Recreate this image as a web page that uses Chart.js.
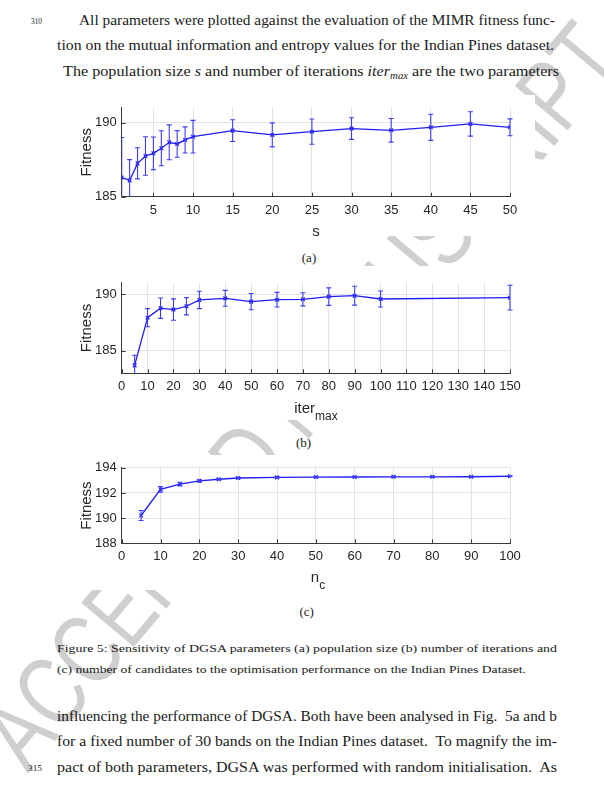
<!DOCTYPE html>
<html><head><meta charset="utf-8">
<script src="https://cdn.jsdelivr.net/npm/chart.js@4/dist/chart.umd.min.js"></script>
<style>
html,body{margin:0;padding:0;background:#fff;}
body{width:604px;height:786px;position:relative;overflow:hidden;}
.wm{position:absolute;font-family:'Liberation Sans',sans-serif;color:#cfcfcf;white-space:nowrap;z-index:0;line-height:1;}
.txt{position:absolute;font-family:'Liberation Serif',serif;white-space:nowrap;z-index:1;color:#1a1a1a;transform-origin:0 0;line-height:0;}
.box{position:absolute;background:#fff;z-index:2;}
.lbl{position:absolute;font-family:'Liberation Sans',sans-serif;color:#262626;z-index:3;white-space:nowrap;line-height:1;transform:translate(-50%,-50%);}
.sub{position:relative;top:7px;font-size:12px;}
</style>
</head><body>
<div class="wm" id="wm">ACCEPTED MANUSCRIPT</div>

<div class="box" style="left:55px;top:95px;width:480px;height:141px;"><canvas id="ca" width="475" height="141"></canvas></div>
<div class="box" style="left:55px;top:266px;width:475px;height:154px;"><canvas id="cb" width="475" height="154"></canvas></div>
<div class="box" style="left:55px;top:455px;width:475px;height:135px;"><canvas id="cc" width="475" height="135"></canvas></div>

<div class="lbl" style="left:316px;top:230px;font-size:15px;">s</div>
<div class="lbl" style="left:316px;top:407px;font-size:15px;">iter<span class="sub">max</span></div>
<div class="lbl" style="left:318px;top:576px;font-size:15px;">n<span class="sub">c</span></div>

<script>
// ---------- data ----------
const sX = [1,2,3,4,5,6,7,8,9,10,15,20,25,30,35,40,45,50];
const sFit = [186.3,186.1,187.25,187.75,187.93,188.27,188.67,188.56,188.83,189.05,189.46,189.17,189.39,189.6,189.48,189.68,189.91,189.68];
const sErr = [2.7,1.4,1.05,1.3,1.1,1.18,1.18,0.9,0.88,1.1,0.73,0.81,0.85,0.73,0.8,0.88,0.82,0.57];
const sTicksX = [5,10,15,20,25,30,35,40,45,50];
const sTicksY = [185,190];

const iterX = [5,10,15,20,25,30,40,50,60,70,80,90,100,150];
const iterFit = [183.7,187.91,188.75,188.63,188.92,189.48,189.62,189.33,189.5,189.53,189.77,189.85,189.56,189.68];
const iterErr = [0.9,0.8,0.9,0.94,0.76,0.77,0.7,0.72,0.65,0.58,0.77,0.83,0.71,1.09];
const iterTicksX = [0,10,20,30,40,50,60,70,80,90,100,110,120,130,140,150];
const iterTicksY = [185,190];

const ncX = [5,10,15,20,25,30,40,50,60,70,80,90,100];
const ncFit = [190.21,192.29,192.7,192.96,193.09,193.19,193.24,193.26,193.27,193.28,193.28,193.29,193.33];
const ncErr = [0.4,0.22,0.15,0.08,0.05,0.05,0.04,0.04,0.04,0.04,0.04,0.04,0.04];
const ncTicksX = [0,10,20,30,40,50,60,70,80,90,100];
const ncTicksY = [188,190,192,194];

// ---------- text ----------
const bodyLines = [
  ['All parameters were plotted against the evaluation of the MIMR fitness func-', 79, 25, 555],
  ['tion on the mutual information and entropy values for the Indian Pines dataset.', 57, 50.5, 554],
  ['The population size <i>s</i> and number of iterations <i>iter</i><i style="font-size:10px;position:relative;top:3px">max</i> are the two parameters', 63, 76, 559],
  ['influencing the performance of DGSA. Both have been analysed in Fig.&nbsp; 5a and b', 57, 721, 557],
  ['for a fixed number of 30 bands on the Indian Pines dataset.&nbsp; To magnify the im-', 57, 746.5, 557],
  ['pact of both parameters, DGSA was performed with random initialisation.&nbsp; As', 57, 772, 557]
];
const captionLines = [
  ['Figure 5: Sensitivity of DGSA parameters (a) population size (b) number of iterations and', 57, 652, 557],
  ['(c) number of candidates to the optimisation performance on the Indian Pines Dataset.', 57, 673, 526]
];
const lineNums = [['310', 31, 25, 42], ['315', 28, 772, 42]];
const subCaps = [['(a)', 309, 258], ['(b)', 303.5, 443], ['(c)', 306.7, 612.7]];

function addText(html, left, baseline, size, right) {
  const el = document.createElement('div');
  el.className = 'txt';
  el.innerHTML = html;
  el.style.fontSize = size + 'px';
  el.style.left = left + 'px';
  el.style.top = (baseline - 0.3375 * size) + 'px';
  document.body.appendChild(el);
  if (right) {
    const w = el.getBoundingClientRect().width;
    el.style.transform = 'scaleX(' + ((right - left) / w) + ')';
  }
  return el;
}
bodyLines.forEach(l => addText(l[0], l[1], l[2], 15, l[3]));
captionLines.forEach(l => addText(l[0], l[1], l[2], 11, l[3]));
lineNums.forEach(l => addText(l[0], l[1], l[2], 8, l[3]));
subCaps.forEach(l => {
  const el = addText(l[0], 0, l[2] + 4, 13, null);
  const w = el.getBoundingClientRect().width;
  el.style.left = (l[1] - w / 2) + 'px';
});

// watermark
(function(){
  const wm = document.getElementById('wm');
  wm.style.fontSize = '100px';
  const w = wm.getBoundingClientRect().width, h = wm.getBoundingClientRect().height;
  const k = 930 / w;
  wm.style.left = (300 - w / 2) + 'px';
  wm.style.top = (395 - h / 2) + 'px';
  wm.style.transform = 'rotate(-50deg) scaleX(' + k + ')';
})();

// ---------- charts ----------
const BLUE = 'rgb(30,30,245)';
const BAR = 'rgb(60,60,250)';
const GRID = '#e3e3e3';
const AXIS = '#3a3a3a';
const TXT = '#262626';
const SANS = "'Liberation Sans', Arial, sans-serif";

const errorBars = {
  id: 'errorBars',
  afterDatasetsDraw(chart) {
    const ds = chart.data.datasets[0];
    const xs = chart.scales.x, ys = chart.scales.y, ca = chart.chartArea, ctx = chart.ctx;
    ctx.save();
    ctx.beginPath();
    ctx.rect(ca.left, ca.top - 1, ca.right - ca.left + 4, ca.bottom - ca.top + 1);
    ctx.clip();
    ctx.strokeStyle = BAR;
    ctx.lineWidth = 1.1;
    const cap = 2.5;
    ds.data.forEach((p, i) => {
      const e = ds.errors[i];
      const px = xs.getPixelForValue(p.x);
      const y1 = ys.getPixelForValue(p.y + e), y2 = ys.getPixelForValue(p.y - e);
      ctx.beginPath();
      ctx.moveTo(px, y1); ctx.lineTo(px, y2);
      ctx.moveTo(px - cap, y1); ctx.lineTo(px + cap, y1);
      ctx.moveTo(px - cap, y2); ctx.lineTo(px + cap, y2);
      ctx.stroke();
    });
    ctx.restore();
  },
  afterDraw(chart) {
    const xs = chart.scales.x, ys = chart.scales.y, ca = chart.chartArea, ctx = chart.ctx;
    ctx.save();
    ctx.strokeStyle = AXIS;
    ctx.lineWidth = 1;
    ctx.beginPath();
    xs.ticks.forEach(t => {
      const px = Math.round(xs.getPixelForValue(t.value)) + 0.5;
      ctx.moveTo(px, ca.bottom); ctx.lineTo(px, ca.bottom - 4);
    });
    ys.ticks.forEach(t => {
      const py = Math.round(ys.getPixelForValue(t.value)) + 0.5;
      ctx.moveTo(ca.left, py); ctx.lineTo(ca.left + 4, py);
    });
    ctx.stroke();
    ctx.restore();
  }
};

function makeChart(id, xv, yv, ev, xTicks, yTicks, xmin, xmax, ymin, ymax, padTop, plotH, canvasH) {
  const padLeft = 22.7, yW = 44;
  return new Chart(document.getElementById(id), {
    type: 'line',
    data: {
      datasets: [{
        data: xv.map((x, i) => ({x: x, y: yv[i]})),
        errors: ev,
        borderColor: BLUE,
        backgroundColor: BLUE,
        borderWidth: 1.3,
        pointStyle: 'crossRot',
        pointRadius: 2.6,
        pointBorderWidth: 1.2,
        pointBorderColor: BLUE,
        tension: 0,
        fill: false
      }]
    },
    plugins: [errorBars],
    options: {
      responsive: false, animation: false, devicePixelRatio: 1,
      layout: {padding: {left: padLeft, right: 20, top: padTop, bottom: 0}},
      plugins: {legend: {display: false}, tooltip: {enabled: false}},
      scales: {
        x: {
          type: 'linear', min: xmin, max: xmax,
          afterBuildTicks: s => { s.ticks = xTicks.map(v => ({value: v})); },
          afterFit: s => { s.height = canvasH - padTop - plotH; },
          grid: {color: GRID, drawTicks: false},
          border: {color: AXIS, width: 1},
          ticks: {font: {family: SANS, size: 13}, color: TXT, padding: 5.5, maxRotation: 0, autoSkip: false}
        },
        y: {
          type: 'linear', min: ymin, max: ymax,
          afterBuildTicks: s => { s.ticks = yTicks.map(v => ({value: v})); },
          afterFit: s => { s.width = yW; },
          grid: {color: GRID, drawTicks: false},
          border: {color: AXIS, width: 1},
          ticks: {font: {family: SANS, size: 13}, color: TXT, padding: 5},
          title: {display: true, text: 'Fitness', font: {family: SANS, size: 15}, color: TXT, padding: 0}
        }
      }
    }
  });
}

makeChart('ca', sX, sFit, sErr, sTicksX, sTicksY, 1, 50, 185, 191, 12.7, 89, 141);
makeChart('cb', iterX, iterFit, iterErr, iterTicksX, iterTicksY, 0, 150, 183, 191, 16.7, 90.6, 154);
makeChart('cc', ncX, ncFit, ncErr, ncTicksX, ncTicksY, 0, 100, 188, 194, 11.7, 76.6, 135);
</script>
</body></html>
